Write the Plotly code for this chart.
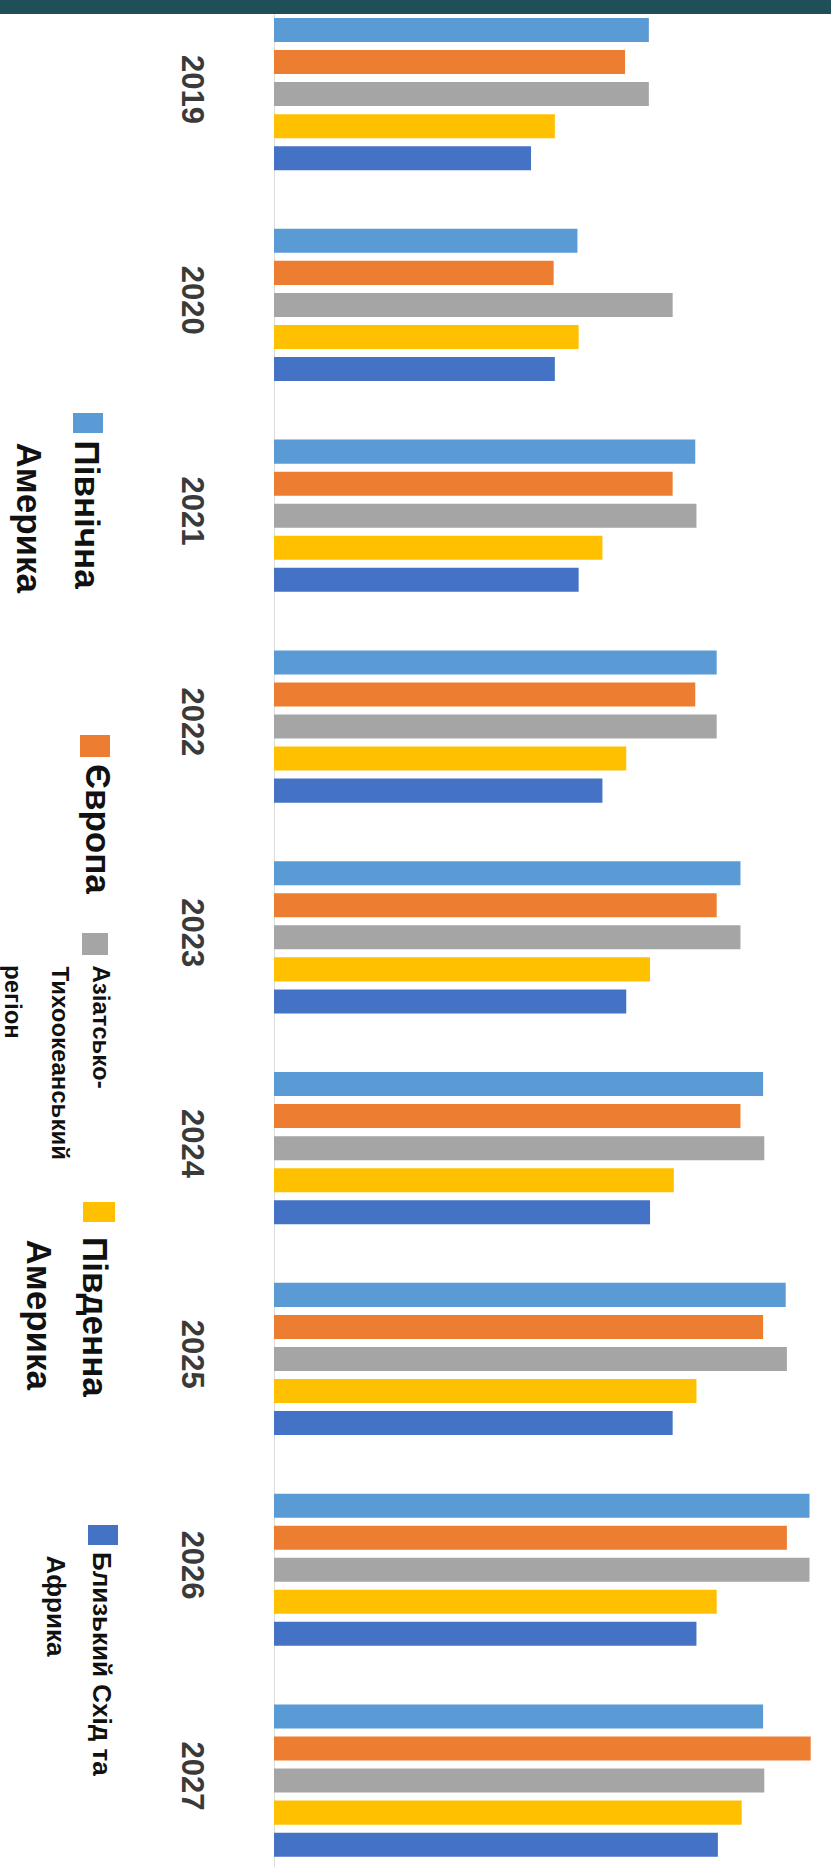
import plotly.graph_objects as go

years = ["2019", "2020", "2021", "2022", "2023", "2024", "2025", "2026", "2027"]
series_names = ["Північна Америка", "Європа", "Азіатсько-Тихоокеанський регіон",
                "Південна Америка", "Близький Схід та Африка"]
north_america = [31.5, 25.5, 35.4, 37.2, 39.2, 41.1, 43.0, 45.0, 41.1]
europe        = [29.5, 23.5, 33.5, 35.4, 37.2, 39.2, 41.1, 43.1, 45.1]
asia_pacific  = [31.5, 33.5, 35.5, 37.2, 39.2, 41.2, 43.1, 45.0, 41.2]
south_america = [23.6, 25.6, 27.6, 29.6, 31.6, 33.6, 35.5, 37.2, 39.3]
mea           = [21.6, 23.6, 25.6, 27.6, 29.6, 31.6, 33.5, 35.5, 37.3]
colors = ["#5B9BD5", "#ED7D31", "#A5A5A5", "#FFC000", "#4472C4"]

W, H = 831, 1867
L, R, T, B = 274, 0, 14, 0
PW, PH = W - L - R, H - T - B

def px(x):
    return (x - L) / PW

def py(y):
    return 1 - (y - T) / PH

fig = go.Figure()
for name, vals, c in zip(series_names, [north_america, europe, asia_pacific, south_america, mea], colors):
    fig.add_trace(go.Bar(y=years, x=vals, name=name, orientation="h",
                         marker=dict(color=c, line=dict(width=0))))

fig.update_layout(
    width=W, height=H, barmode="group", bargap=0.24, bargroupgap=0.25,
    margin=dict(l=L, r=R, t=T, b=B), showlegend=False,
    paper_bgcolor="white", plot_bgcolor="white",
    xaxis=dict(range=[0, PW / 11.9], showgrid=False, showticklabels=False,
               zeroline=True, zerolinecolor="#dcdcdc", zerolinewidth=1, fixedrange=True),
    yaxis=dict(type="category", range=[8.41, -0.38], showgrid=False,
               tickangle=90, ticks="", ticklabelstandoff=60,
               tickfont=dict(family="Liberation Sans", size=31, color="#3a3a3a"),
               tickvals=years, ticktext=["<b>%s</b>" % y for y in years]),
    font=dict(family="Liberation Sans"),
)

# top dark band
fig.add_shape(type="rect", xref="paper", yref="paper", x0=px(0), x1=px(W),
              y0=py(14), y1=py(0), fillcolor="#1f4f59", line=dict(width=0), layer="above")

# legend (rotated, as in the picture)
legend_items = [
    # color idx, marker box (x0,x1,y0,y1), lines [(text, cx, top, size)]
    (0, (73, 103, 413, 433), [("Північна", 87, 438, 35), ("Америка", 29, 440, 35)]),
    (1, (80, 110, 735, 757), [("Європа", 99, 762, 35)]),
    (2, (82, 108, 933, 955), [("Азіатсько-", 101, 963, 24), ("Тихоокеанський", 60, 964, 24),
                              ("регіон", 14, 963, 24)]),
    (3, (83, 115, 1202, 1222), [("Південна", 96, 1235, 35), ("Америка", 39, 1237, 35)]),
    (4, (88, 118, 1525, 1545), [("Близький Схід та", 102, 1550, 26), ("Африка", 56, 1553, 26)]),
]
for ci, (x0, x1, y0, y1), lines in legend_items:
    fig.add_shape(type="rect", xref="paper", yref="paper", x0=px(x0), x1=px(x1),
                  y0=py(y1), y1=py(y0), fillcolor=colors[ci], line=dict(width=0))
    for text, cx, top, size in lines:
        fig.add_annotation(xref="paper", yref="paper", x=px(cx), y=py(top),
                           text="<b>%s</b>" % text, showarrow=False, textangle=90,
                           xanchor="center", yanchor="top",
                           font=dict(family="Liberation Sans", size=size, color="#111111"))

fig.write_html("out.html")
